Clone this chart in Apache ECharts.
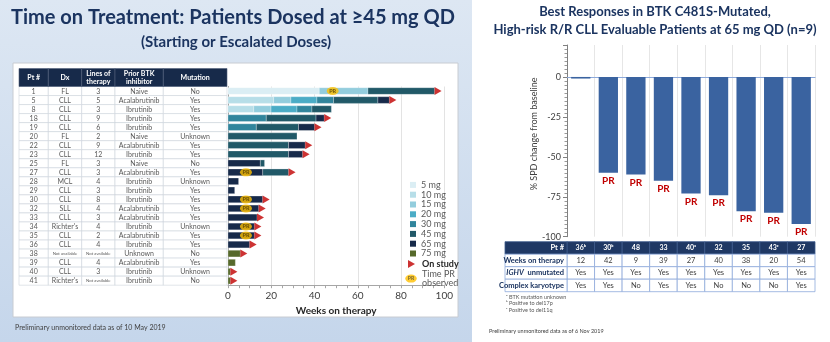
<!DOCTYPE html>
<html><head><meta charset="utf-8">
<script src="https://cdn.jsdelivr.net/npm/echarts@6/dist/echarts.min.js"></script>
<style>html,body{margin:0;padding:0;background:#fff}#c{width:830px;height:342px}</style>
</head><body><div id="c"></div>
<script>
// ---------- LEFT: time on treatment ----------
const patients = ['1','5','8','18','19','20','22','23','25','27','28','29','30','32','33','34','35','36','38','39','40','41'];
const dx = ['FL','CLL','CLL','CLL','CLL','FL','CLL','CLL','FL','CLL','MCL','CLL','CLL','SLL','CLL',"Richter's",'CLL','CLL','Not available','CLL','CLL',"Richter's"];
const linesOfTherapy = ['3','5','3','9','6','2','9','12','3','3','4','3','8','4','3','4','2','4','Not available','4','3','Not available'];
const priorBTK = ['Naive','Acalabrutinib','Ibrutinib','Ibrutinib','Ibrutinib','Naive','Acalabrutinib','Ibrutinib','Naive','Acalabrutinib','Ibrutinib','Ibrutinib','Ibrutinib','Acalabrutinib','Acalabrutinib','Ibrutinib','Acalabrutinib','Ibrutinib','Unknown','Acalabrutinib','Ibrutinib','Ibrutinib'];
const mutation = ['No','Yes','Yes','Yes','Yes','Unknown','Yes','Yes','No','Yes','Unknown','Yes','Yes','Yes','Yes','Unknown','Yes','Yes','No','Yes','Unknown','No'];
const tableHeaders = ['Pt #','Dx','Lines of\ntherapy','Prior BTK\ninhibitor','Mutation'];
const doses = ['5 mg','10 mg','15 mg','20 mg','30 mg','45 mg','65 mg','75 mg'];
// per patient: ordered [dose, weeks at that dose]
const segments = [
 [['5 mg',42.2],['15 mg',22.5],['45 mg',30.8]],
 [['10 mg',21.1],['15 mg',8.0],['20 mg',12.0],['30 mg',7.7],['45 mg',20.5],['65 mg',5.3]],
 [['10 mg',11.9],['15 mg',8.0],['20 mg',12.0],['30 mg',6.9],['45 mg',9.0]],
 [['30 mg',17.7],['45 mg',23.0],['65 mg',3.8]],
 [['30 mg',13.1],['45 mg',19.5],['65 mg',7.4]],
 [['45 mg',31.9]],
 [['45 mg',28.0],['65 mg',7.7]],
 [['45 mg',28.0],['65 mg',6.5]],
 [['65 mg',14.9],['45 mg',2.0]],
 [['65 mg',16.0],['45 mg',12.0]],
 [['65 mg',4.9]],
 [['65 mg',3.1]],
 [['65 mg',16.0]],
 [['65 mg',14.2]],
 [['65 mg',13.4]],
 [['65 mg',12.2]],
 [['65 mg',12.2]],
 [['65 mg',10.0]],
 [['75 mg',5.7]],
 [['75 mg',3.4]],
 [['75 mg',1.1]],
 [['75 mg',1.1]]
];
const onStudy = [1,1,0,1,1,0,1,1,0,1,0,0,1,1,1,1,1,1,1,0,1,1];
const prWeeks = [48.4,null,null,null,null,null,null,null,null,8.3,null,null,8.3,8.3,null,8.3,8.3,null,null,null,null,null];
const weekTicks = [0,20,40,60,80,100];

// ---------- RIGHT: best responses ----------
const rightPts = ['36\u1d47','30\u1d47','48','33','40\u1d43','32','35','43\u1d9c','27'];
const spdChange = [-1,-60,-61,-65,-73,-74,-84,-85,-92];
const bestResponse = ['','PR','PR','PR','PR','PR','PR','PR','PR'];
const rightRowLabels = ['Pt #','Weeks on therapy','IGHV unmutated','Complex karyotype'];
const weeksOnTherapy = ['12','42','9','39','27','40','38','20','54'];
const ighvUnmutated = ['Yes','Yes','Yes','Yes','Yes','Yes','Yes','Yes','Yes'];
const complexKaryotype = ['Yes','Yes','No','Yes','Yes','No','No','No','Yes'];
const footnotes = ['\u1d43 BTK mutation unknown','\u1d47 Positive to del17p','\u1d9c Positive to del11q'];

// ---------- styles ----------
const FONT = 'Lato';
const NAVY = '#1b3460';
const doseColors = {'5 mg':'#dbeef4','10 mg':'#b7dee8','15 mg':'#93cddd','20 mg':'#4bacc6','30 mg':'#31859c','45 mg':'#215968','65 mg':'#172a4a','75 mg':'#56692b'};
const colEdges = [0,29.3,62.7,96,144.3,208];

// build dose series data
const doseData = {}; doses.forEach(d => doseData[d] = []);
const totals = [];
segments.forEach((segs, i) => {
  let s = 0;
  segs.forEach(([d, w]) => { doseData[d].push([s, s + w, i]); s += w; });
  totals.push(s);
});
const arrowData = [];
totals.forEach((t, i) => { if (onStudy[i]) arrowData.push([t, i]); });
const prData = [];
prWeeks.forEach((w, i) => { if (w != null) prData.push([w, i]); });

function segItem(params, api) {
  const p0 = api.coord([api.value(0), api.value(2)]);
  const p1 = api.coord([api.value(1), api.value(2)]);
  const h = api.size([0, 1])[1] * 0.74;
  return {type:'rect', shape:{x:p0[0], y:p0[1]-h/2, width:p1[0]-p0[0], height:h},
    style:{fill: api.visual('color'), stroke:'rgba(255,255,255,0.55)', lineWidth:0.5}};
}
const doseSeries = doses.map(d => ({
  type:'custom', name:d, xAxisIndex:0, yAxisIndex:0, renderItem:segItem,
  itemStyle:{color:doseColors[d]}, encode:{x:[0,1], y:2}, data:doseData[d], z:3
}));

const tableCols = [patients, dx, linesOfTherapy, priorBTK, mutation];
const leftRows = patients.map((p, i) => [0, i]);

function svgIcon(inner) {
  return 'image://data:image/svg+xml;charset=utf-8,' + encodeURIComponent(
    "<svg xmlns='http://www.w3.org/2000/svg' width='24' height='18' viewBox='0 0 24 18'>" + inner + "</svg>");
}
const triIcon = svgIcon("<polygon points='6,1 20,9 6,17' fill='#c00000'/>");
const prIcon = svgIcon("<ellipse cx='12' cy='9' rx='11.5' ry='8' fill='#ffc000'/><text x='12' y='12.6' font-family='Lato,Arial' font-weight='bold' font-size='10' text-anchor='middle' fill='#4d3a00'>PR</text>");

const rightCells = [];
rightRowLabels.forEach((r, ri) => rightPts.forEach((p, ci) => rightCells.push([ci, ri])));
const rightTableData = [rightPts, weeksOnTherapy, ighvUnmutated, complexKaryotype];

const chart = echarts.init(document.getElementById('c'), null, {renderer:'canvas'});
chart.setOption({
  animation:false,
  textStyle:{fontFamily:FONT},
  graphic:[
    {type:'rect', z:-10, shape:{x:0,y:0,width:472,height:342}, style:{fill:new echarts.graphic.LinearGradient(0,0,0,1,[{offset:0,color:'#dde7f3'},{offset:1,color:'#c5d6eb'}])}},
    {type:'rect', z:-9, shape:{x:13,y:63,width:445,height:254}, style:{fill:'#ffffff', stroke:'#c8ccd2', lineWidth:1}},
    {type:'text', z:5, style:{text:'Time on Treatment: Patients Dosed at \u226545 mg QD', x:233, y:18, align:'center', verticalAlign:'middle', font:'bold 20px Lato', fill:NAVY}},
    {type:'text', z:5, style:{text:'(Starting or Escalated Doses)', x:236, y:42, align:'center', verticalAlign:'middle', font:'bold 15px Lato', fill:NAVY}},
    {type:'text', z:5, style:{text:'Preliminary unmonitored data as of 10 May 2019', x:15, y:328, verticalAlign:'middle', font:'7px Lato', fill:'#404040'}},
    {type:'text', z:5, style:{text:'Best Responses in BTK C481S-Mutated,', x:655, y:12, align:'center', verticalAlign:'middle', font:'bold 13px Lato', fill:NAVY}},
    {type:'text', z:5, style:{text:'High-risk R/R CLL Evaluable Patients at 65 mg QD (n=9)', x:655, y:30, align:'center', verticalAlign:'middle', font:'bold 13px Lato', fill:NAVY}},
    {type:'text', z:5, style:{text:footnotes[0], x:506, y:297, verticalAlign:'middle', font:'5.5px Lato', fill:'#595959'}},
    {type:'text', z:5, style:{text:footnotes[1], x:506, y:303.5, verticalAlign:'middle', font:'5.5px Lato', fill:'#595959'}},
    {type:'text', z:5, style:{text:footnotes[2], x:506, y:310, verticalAlign:'middle', font:'5.5px Lato', fill:'#595959'}},
    {type:'text', z:5, style:{text:'Preliminary unmonitored data as of 6 Nov 2019', x:489, y:331, verticalAlign:'middle', font:'5.5px Lato', fill:'#404040'}}
  ],
  legend:[
    {data:doses, orient:'vertical', left:410, top:180, itemWidth:6, itemHeight:6, itemGap:0, icon:'rect', padding:0,
     textStyle:{fontSize:9, color:'#595959', lineHeight:9.8, fontFamily:FONT}, selectedMode:false},
    {data:[{name:'On study', icon:triIcon, textStyle:{fontWeight:'bold', color:'#262626'}}, {name:'Time PR observed', icon:prIcon}],
     orient:'vertical', left:405, top:259, itemWidth:12, itemHeight:9, itemGap:0, padding:0, selectedMode:false,
     formatter: n => n === 'Time PR observed' ? 'Time PR\nobserved' : n,
     textStyle:{fontSize:9, color:'#595959', lineHeight:9.8, fontFamily:FONT}}
  ],
  grid:[
    {left:228, top:86.5, width:216.3, height:198.7},
    {left:19, top:86.5, width:208, height:198.7},
    {left:567, top:45, width:248, height:191.7},
    {left:567, top:241.7, width:248, height:50}
  ],
  xAxis:[
    {gridIndex:0, type:'value', min:0, max:100, interval:20,
     axisLine:{show:true, lineStyle:{color:'#a6a6a6'}}, axisTick:{show:true, length:3, lineStyle:{color:'#a6a6a6'}},
     minorTick:{show:true, splitNumber:4, length:3, lineStyle:{color:'#a6a6a6'}},
     splitLine:{show:true, lineStyle:{color:'#e3e3e3'}},
     axisLabel:{fontSize:10, color:'#404040', margin:6, formatter: v => weekTicks.includes(v) ? String(v) : ''},
     name:'Weeks on therapy', nameLocation:'middle', nameGap:15, nameTextStyle:{fontSize:10, fontWeight:'bold', color:'#262626'}},
    {gridIndex:1, type:'value', min:0, max:208, show:false},
    {gridIndex:2, type:'category', data:rightPts, axisLabel:{show:false}, axisTick:{show:false},
     axisLine:{show:true, onZero:true, lineStyle:{color:'#8eaadb', width:1.2}},
     splitLine:{show:true, lineStyle:{color:'#e6e6e6'}}},
    {gridIndex:3, type:'category', data:rightPts, show:false}
  ],
  yAxis:[
    {gridIndex:0, type:'category', data:patients, inverse:true, axisLabel:{show:false}, axisTick:{show:false},
     axisLine:{show:true, lineStyle:{color:'#a6a6a6'}}},
    {gridIndex:1, type:'category', data:patients, inverse:true, show:false},
    {gridIndex:2, type:'value', min:-100, max:20, interval:25,
     axisLine:{show:true, lineStyle:{color:'#808080'}}, axisTick:{show:true, length:4, lineStyle:{color:'#808080'}},
     minorTick:{show:true, splitNumber:10, length:2.5, lineStyle:{color:'#9a9a9a'}},
     splitLine:{show:false}, axisLabel:{fontSize:9, color:'#404040', showMaxLabel:false, margin:6},
     name:'% SPD change from baseline', nameLocation:'middle', nameGap:27, nameTextStyle:{fontSize:9, color:'#404040', padding:[0,0,0,14]}},
    {gridIndex:3, type:'category', data:rightRowLabels, inverse:true, show:false}
  ],
  series:[
    ...doseSeries,
    {type:'scatter', name:'On study', xAxisIndex:0, yAxisIndex:0, data:arrowData, symbol:'path://M0,0L10,5L0,10Z',
     symbolSize:[7,8], symbolOffset:[3.5,0], itemStyle:{color:'#c00000'}, z:5},
    {type:'scatter', name:'Time PR observed', xAxisIndex:0, yAxisIndex:0, data:prData, symbol:'circle', symbolSize:[12,8],
     itemStyle:{color:'#ffc000'}, z:6,
     label:{show:true, position:'inside', formatter:'PR', fontSize:5.5, fontWeight:'bold', color:'#4d3a00'}},
    // left table body
    {type:'custom', name:'table', xAxisIndex:1, yAxisIndex:1, data:leftRows, encode:{x:0,y:1}, z:2,
     renderItem:(params, api) => {
       const row = api.value(1);
       const h = api.size([0,1])[1];
       const cy = api.coord([0,row])[1];
       const ch = [];
       for (let c = 0; c < 5; c++) {
         const x0 = api.coord([colEdges[c],row])[0], x1 = api.coord([colEdges[c+1],row])[0];
         ch.push({type:'rect', shape:{x:x0, y:cy-h/2, width:x1-x0, height:h}, style:{fill:'#fff', stroke:'#cdd3db', lineWidth:0.6}});
         const t = tableCols[c][row];
         const small = t === 'Not available';
         ch.push({type:'text', style:{text:t, x:(x0+x1)/2, y:cy+0.3, align:'center', verticalAlign:'middle',
           font:(small ? '4.3px ' : '7px ') + FONT, fill:'#595959'}});
       }
       return {type:'group', children:ch};
     }},
    // left table header
    {type:'custom', name:'tableHeader', xAxisIndex:1, yAxisIndex:1, data:[[0,0]], encode:{x:0,y:1}, z:2,
     renderItem:(params, api) => {
       const h = api.size([0,1])[1];
       const bottom = api.coord([0,0])[1] - h/2;
       const hh = 18;
       const ch = [];
       for (let c = 0; c < 5; c++) {
         const x0 = api.coord([colEdges[c],0])[0], x1 = api.coord([colEdges[c+1],0])[0];
         ch.push({type:'rect', shape:{x:x0, y:bottom-hh, width:x1-x0, height:hh}, style:{fill:'#172a4a', stroke:'#51607a', lineWidth:0.6}});
         ch.push({type:'text', style:{text:tableHeaders[c], x:(x0+x1)/2, y:bottom-hh/2, align:'center', verticalAlign:'middle',
           font:'bold 7px ' + FONT, lineHeight:8, fill:'#ffffff'}});
       }
       return {type:'group', children:ch};
     }},
    // right bars
    {type:'bar', name:'SPD', xAxisIndex:2, yAxisIndex:2, data:spdChange, barWidth:'70%',
     itemStyle:{color:'#3a63a0'},
     label:{show:true, position:'outside', distance:3, formatter:p => bestResponse[p.dataIndex],
       fontSize:10, fontWeight:'bold', color:'#c00000'}},
    // right table cells
    {type:'custom', name:'rtable', xAxisIndex:3, yAxisIndex:3, data:rightCells, encode:{x:0,y:1}, z:2,
     renderItem:(params, api) => {
       const c = api.value(0), r = api.value(1);
       const p = api.coord([c, r]);
       const sz = api.size([1,1]);
       const w = sz[0], h = sz[1];
       const head = r === 0;
       return {type:'group', children:[
         {type:'rect', shape:{x:p[0]-w/2, y:p[1]-h/2, width:w, height:h},
          style:{fill: head ? '#1f3864' : '#ffffff', stroke: head ? '#3d5a8c' : '#8eaadb', lineWidth:0.8}},
         {type:'text', style:{text:rightTableData[r][c], x:p[0], y:p[1], align:'center', verticalAlign:'middle',
          font:(head ? 'bold 7px ' : '7.5px ') + FONT, fill: head ? '#ffffff' : '#404040'}}
       ]};
     }},
    // right table row labels
    {type:'custom', name:'rlabels', xAxisIndex:3, yAxisIndex:3, data:rightRowLabels.map((l,i)=>[0,i]), encode:{x:0,y:1}, z:2,
     renderItem:(params, api) => {
       const r = api.value(1);
       const p = api.coord([0, r]);
       const sz = api.size([1,1]);
       const x1 = p[0] - sz[0]/2, x0 = x1 - 62, h = sz[1];
       const head = r === 0;
       const label = rightRowLabels[r];
       const txt = label.startsWith('IGHV') ? '{i|IGHV}  unmutated' : label;
       return {type:'group', children:[
         {type:'rect', shape:{x:x0, y:p[1]-h/2, width:62, height:h},
          style:{fill: head ? '#1f3864' : '#ffffff', stroke: head ? '#3d5a8c' : '#8eaadb', lineWidth:0.8}},
         {type:'text', style:{text:txt, x:x1-3, y:p[1], align:'right', verticalAlign:'middle',
          font:'bold 7.5px ' + FONT, fill: head ? '#ffffff' : NAVY,
          rich:{i:{fontStyle:'italic', fontWeight:'bold', fontSize:7.5, fontFamily:FONT, fill:NAVY}}}}
       ]};
     }}
  ]
});
</script></body></html>
